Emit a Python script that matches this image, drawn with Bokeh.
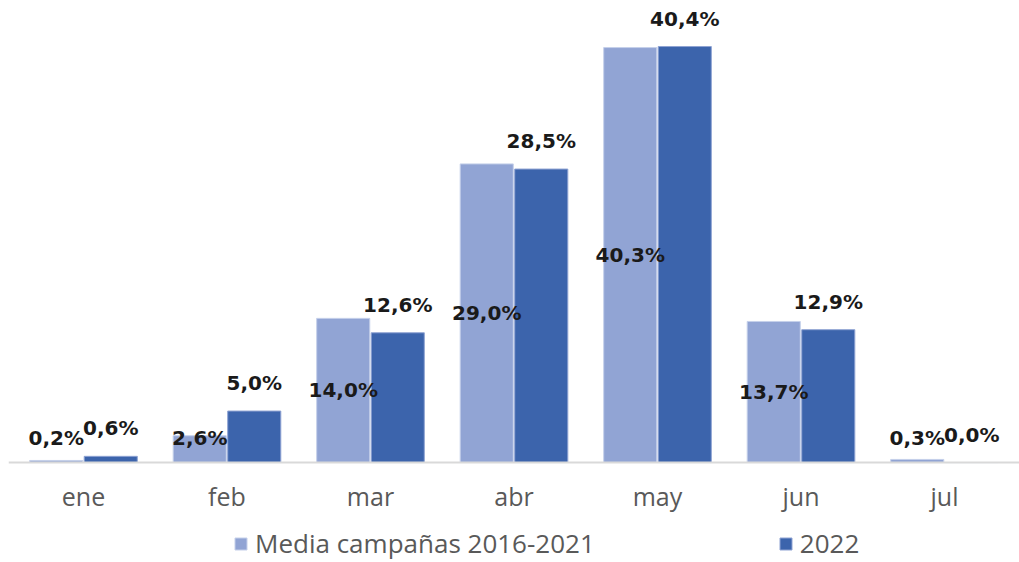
from bokeh.plotting import figure
from bokeh.models import ColumnDataSource, FactorRange, Legend, LegendItem
from bokeh.transform import dodge
from bokeh.core.properties import value
from bokeh.embed import file_html
from bokeh.resources import INLINE

months = ["ene", "feb", "mar", "abr", "may", "jun", "jul"]
media = [0.2, 2.6, 14.0, 29.0, 40.3, 13.7, 0.3]
y2022 = [0.6, 5.0, 12.6, 28.5, 40.4, 12.9, 0.0]
series_names = ["Media campañas 2016-2021", "2022"]

LIGHT = "#91A4D4"
DARK = "#3C64AC"

def fmt(v):
    return f"{v:.1f}%".replace(".", ",")

src = ColumnDataSource(dict(
    m=months,
    media=media,
    y2022=y2022,
    media_lbl=[fmt(v) for v in media],
    y2022_lbl=[fmt(v) for v in y2022],
    media_pos=[max(v / 2, 2.4) for v in media],
))

xr = FactorRange(*months, range_padding=0.0226, range_padding_units="absolute")
p = figure(x_range=xr, y_range=(-9.71, 44.87), width=1019, height=562,
           output_backend="svg", toolbar_location=None,
           min_border_left=8, min_border_right=0, min_border_top=0, min_border_bottom=0)
p.outline_line_color = None
p.xgrid.visible = False
p.ygrid.visible = False
p.yaxis.visible = False

r1 = p.vbar(x=dodge("m", -0.19, range=p.x_range), top="media", width=0.37, source=src,
            fill_color=LIGHT, line_color="#C5D0EA", line_width=1)
r2 = p.vbar(x=dodge("m", 0.19, range=p.x_range), top="y2022", width=0.37, source=src,
            fill_color=DARK, line_color="#8FA3D3", line_width=1)

p.text(x=dodge("m", -0.19, range=p.x_range), y="media_pos", text="media_lbl", source=src,
       text_align="center", text_baseline="middle", text_font=value("DejaVu Sans"),
       text_font_style="bold", text_font_size="20px", text_color="#1a1a1a")
p.text(x=dodge("m", 0.19, range=p.x_range), y="y2022", text="y2022_lbl", source=src,
       text_align="center", text_baseline="middle", y_offset=-28, text_font=value("DejaVu Sans"),
       text_font_style="bold", text_font_size="20px", text_color="#1a1a1a")

ax = p.xaxis[0]
ax.fixed_location = 0
ax.axis_line_color = "#D9D9D9"
ax.axis_line_width = 2
ax.major_tick_line_color = None
ax.minor_tick_line_color = None
ax.major_label_text_font = "Open Sans"
ax.major_label_text_font_size = "25px"
ax.major_label_text_color = "#595959"
ax.major_label_standoff = 10

legend = Legend(items=[LegendItem(label=series_names[0], renderers=[r1]),
                       LegendItem(label=series_names[1], renderers=[r2])],
                orientation="horizontal", location=(225, 1),
                glyph_width=15, glyph_height=15, label_standoff=7, spacing=183,
                label_text_font="Open Sans", label_text_font_size="26px",
                label_text_color="#595959", border_line_color=None,
                background_fill_alpha=0, padding=0, margin=0)
p.add_layout(legend)

open("out.html", "w").write(file_html(p, INLINE))
